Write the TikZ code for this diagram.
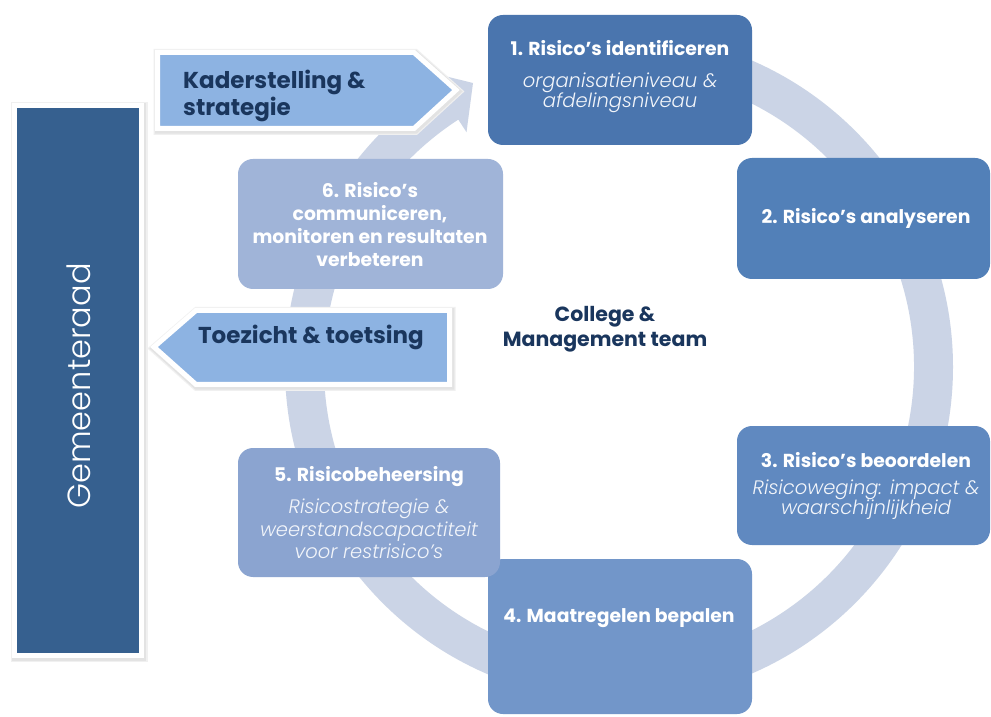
\documentclass[tikz,border=0pt]{standalone}
\usepackage{fontspec}
\setmainfont{Poppins}
\newfontfamily\lightfont{Poppins Light}
\newfontfamily\lightitfont{Poppins Light Italic}
\usetikzlibrary{calc}
\definecolor{ringc}{RGB}{203,212,230}
\definecolor{cA}{RGB}{74,117,174}
\definecolor{cB}{RGB}{82,128,184}
\definecolor{cC}{RGB}{96,137,192}
\definecolor{cD}{RGB}{114,150,201}
\definecolor{cE}{RGB}{139,164,208}
\definecolor{cF}{RGB}{160,180,216}
\definecolor{gem}{RGB}{54,96,143}
\definecolor{arrowc}{RGB}{141,179,226}
\definecolor{navy}{RGB}{26,54,93}
\definecolor{subtxt}{RGB}{242,245,250}
\tikzset{
  stepbox/.style={rectangle, rounded corners=15pt, inner sep=0pt, draw=none},
  ttl/.style={text=white, font=\bfseries\fontsize{18.8}{23}\selectfont, align=center, inner sep=0pt},
  sub/.style={text=subtxt, font=\lightitfont\fontsize{19.5}{20}\selectfont, align=center, inner sep=0pt},
  banner/.style={fill=arrowc, draw=white, line width=5pt, line join=miter},
  rimsoft/.style={draw=black!6, line width=10pt, line join=miter},
  rim/.style={draw=black!11, line width=7.5pt, line join=miter},
  bannertext/.style={text=navy, font=\bfseries\fontsize{23}{27}\selectfont, inner sep=0pt},
}
\begin{document}
\begin{tikzpicture}[x=1pt,y=1pt]
\useasboundingbox (0,0) rectangle (991,716);
\fill[white] (0,0) rectangle (991,716);
% ring arrow
\coordinate (C) at (619,349);
\coordinate (tip) at (473,633);
\fill[ringc] ($(C)+(90:334)$) arc[start angle=90, end angle=-237, radius=334]
  -- ($(C)+(-237:352)$) -- (tip) -- ($(C)+(-237:280)$) -- ($(C)+(-237:295)$)
  arc[start angle=-237, end angle=90, radius=295] -- cycle;
% Gemeenteraad
\draw[rimsoft] (15.5,59) rectangle (142.5,609);
\draw[rim] (15.5,59) rectangle (142.5,609);
\node[rectangle, fill=gem, draw=white, line width=5pt, minimum width=127pt, minimum height=550pt] (gr) at (78,335.5) {};
\node[rotate=90, text=white, font=\lightfont\fontsize{32}{36}\selectfont, inner sep=0pt] (grt) at (79,330) {Gemeenteraad};
% step boxes
\node[stepbox, fill=cA, minimum width=264pt, minimum height=130pt] (b1) at (620,636) {};
\node[stepbox, fill=cB, minimum width=253pt, minimum height=121pt] (b2) at (863.5,497.5) {};
\node[stepbox, fill=cC, minimum width=253pt, minimum height=119pt] (b3) at (863.5,230.5) {};
\node[stepbox, fill=cD, minimum width=264pt, minimum height=155pt] (b4) at (620,79.5) {};
\node[stepbox, fill=cE, minimum width=262pt, minimum height=129pt] (b5) at (369,203.5) {};
\node[stepbox, fill=cF, minimum width=265pt, minimum height=130pt] (b6) at (370.5,492) {};
% texts
\node[ttl] (t1a) at (620,668) {1. Risico’s identificeren};
\node[sub] (t1b) at (620,623.5) {organisatieniveau \&\\afdelingsniveau};
\node[ttl] (t2) at (866,498) {2. Risico’s analyseren};
\node[ttl] (t3a) at (866,256) {3. Risico’s beoordelen};
\node[sub] (t3b) at (866,216) {Risicoweging: impact \&\\waarschijnlijkheid};
\node[ttl] (t4) at (619,98) {4. Maatregelen bepalen};
\node[ttl] (t5a) at (369,239) {5. Risicobeheersing};
\node[sub, font=\lightitfont\fontsize{19.5}{22.5}\selectfont] (t5b) at (369,187) {Risicostrategie \&\\weerstandscapactiteit\\voor restrisico’s};
\node[ttl] (t6) at (370,491) {6. Risico’s\\communiceren,\\monitoren en resultaten\\verbeteren};
\node[text=navy, font=\bfseries\fontsize{20.5}{25}\selectfont, align=center, inner sep=0pt] (col) at (605,386.5) {College \&\\Management team};
% banners
\draw[rimsoft] (158.5,662) -- (415,662) -- (457,624.5) -- (415,586) -- (158.5,586) -- cycle;
\draw[rim] (158.5,662) -- (415,662) -- (457,624.5) -- (415,586) -- (158.5,586) -- cycle;
\path[banner] (157.5,663.5) -- (414,663.5) -- (456,626) -- (414,587.5) -- (157.5,587.5) -- cycle;
\node[bannertext, anchor=west, align=left] (kad) at (183,620.5) {Kaderstelling \&\\strategie};
\draw[rimsoft] (450.5,404) -- (450.5,330) -- (197,330) -- (155,367.5) -- (197,404) -- cycle;
\draw[rim] (450.5,404) -- (450.5,330) -- (197,330) -- (155,367.5) -- (197,404) -- cycle;
\path[banner] (449.5,405.5) -- (449.5,331.5) -- (196,331.5) -- (154,369) -- (196,405.5) -- cycle;
\node[bannertext] (toe) at (311,379) {Toezicht \& toetsing};
\end{tikzpicture}
\end{document}
